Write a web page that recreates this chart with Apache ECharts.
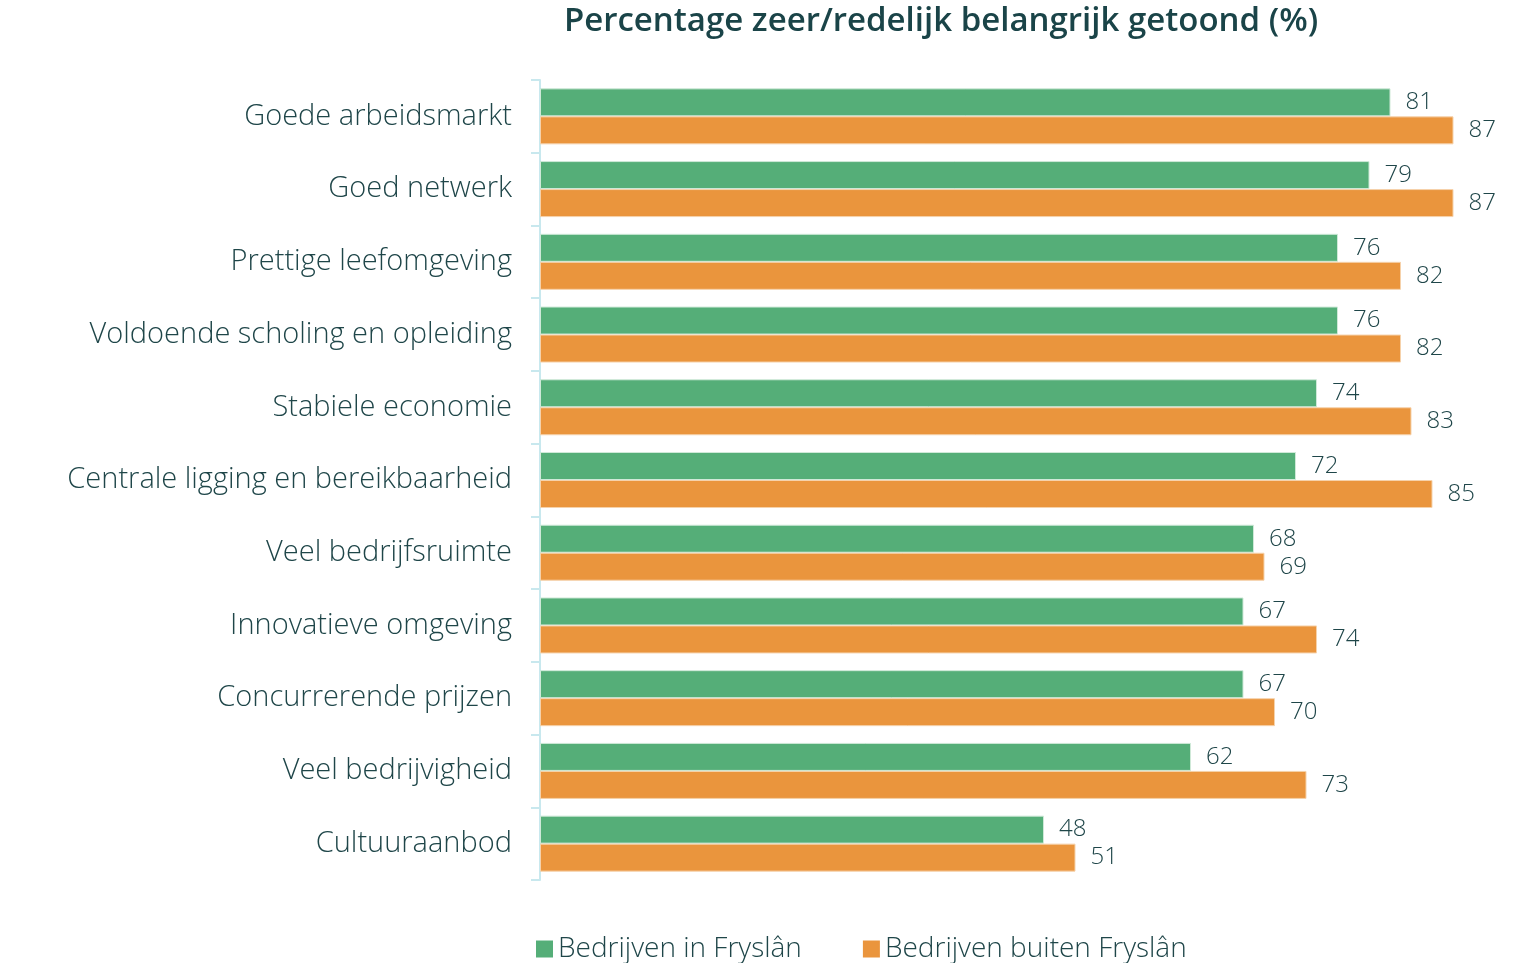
<!DOCTYPE html>
<html>
<head>
<meta charset="utf-8">
<script src="https://cdn.jsdelivr.net/npm/echarts@6/dist/echarts.min.js"></script>
<style>html,body{margin:0;padding:0;background:#fff}#c{width:1521px;height:963px}</style>
</head>
<body>
<div id="c"></div>
<script>
const categories = ["Goede arbeidsmarkt","Goed netwerk","Prettige leefomgeving","Voldoende scholing en opleiding","Stabiele economie","Centrale ligging en bereikbaarheid","Veel bedrijfsruimte","Innovatieve omgeving","Concurrerende prijzen","Veel bedrijvigheid","Cultuuraanbod"];
const inFryslan = [81,79,76,76,74,72,68,67,67,62,48];
const buitenFryslan = [87,87,82,82,83,85,69,74,70,73,51];
const seriesNames = ["Bedrijven in Fryslân","Bedrijven buiten Fryslân"];
const titleText = "Percentage zeer/redelijk belangrijk getoond (%)";

const txt = '#1f4649';
const font = '"Open Sans", "Noto Sans", sans-serif';
const chart = echarts.init(document.getElementById('c'));
chart.setOption({
  animation:false,
  title:{text:titleText,left:936,top:0,textAlign:'center',textStyle:{fontFamily:'"Open Sans", sans-serif',fontSize:33,fontWeight:600,color:'#1a4448'}},
  legend:{left:531,top:930,itemWidth:17,itemHeight:17,itemGap:61,icon:'rect',
    itemStyle:{borderWidth:0},
    textStyle:{fontFamily:font,fontSize:28,fontWeight:300,color:txt}},
  grid:{left:540,top:80,bottom:83,right:36,containLabel:false},
  xAxis:{type:'value',min:0,max:90,show:false},
  yAxis:{type:'category',data:categories,inverse:true,
    axisLine:{show:true,lineStyle:{color:'#c8e8ee',width:2}},
    axisTick:{show:true,length:9,lineStyle:{color:'#c8e8ee',width:2}},
    axisLabel:{fontFamily:font,fontSize:29,fontWeight:300,color:txt,margin:28}},
  series:[
    {name:seriesNames[0],type:'bar',data:inFryslan,barGap:'0%',barCategoryGap:'23%',
     itemStyle:{color:'#55ae78',borderColor:'#cfe9d8',borderWidth:1},
     label:{show:true,position:'right',distance:15,fontFamily:font,fontSize:24,fontWeight:300,color:txt}},
    {name:seriesNames[1],type:'bar',data:buitenFryslan,
     itemStyle:{color:'#ea953d',borderColor:'#f6d2ab',borderWidth:1},
     label:{show:true,position:'right',distance:15,fontFamily:font,fontSize:24,fontWeight:300,color:txt}}
  ]
});
</script>
</body>
</html>
